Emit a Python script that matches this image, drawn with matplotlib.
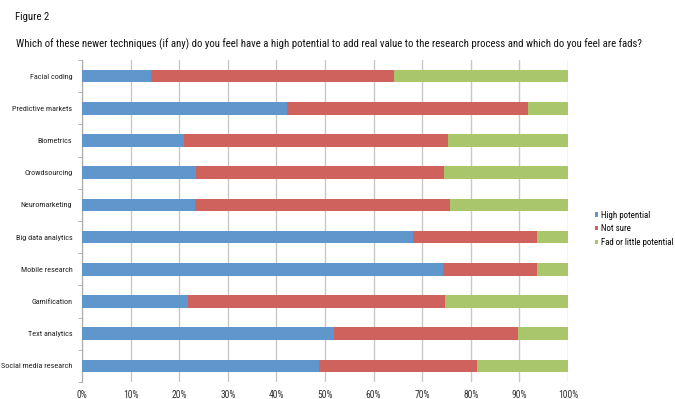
import numpy as np
import matplotlib
matplotlib.use('Agg')
import matplotlib.pyplot as plt
from matplotlib import font_manager

available = set(f.name for f in font_manager.fontManager.ttflist)
family = 'DejaVu Sans'
for cand in ['Liberation Sans Narrow', 'Roboto Condensed', 'Open Sans Condensed', 'Liberation Sans']:
    if cand in available:
        family = cand
        break
plt.rcParams['font.family'] = [family, 'DejaVu Sans']

categories = ['Facial coding', 'Predictive markets', 'Biometrics', 'Crowdsourcing',
              'Neuromarketing', 'Big data analytics', 'Mobile research', 'Gamification',
              'Text analytics', 'Social media research']
high_potential = [14.3, 42.1, 20.9, 23.5, 23.3, 68.2, 74.3, 21.8, 51.9, 48.7]
not_sure = [49.8, 49.7, 54.5, 51.0, 52.4, 25.5, 19.3, 52.9, 37.9, 32.6]
fad = [35.9, 8.2, 24.6, 25.5, 24.3, 6.3, 6.4, 25.3, 10.2, 18.7]
series_names = ['High potential', 'Not sure', 'Fad or little potential']
colors = ['#5f96cb', '#d0625e', '#a9c66b']
title = 'Which of these newer techniques (if any) do you feel have a high potential to add real value to the research process and which do you feel are fads?'

fig = plt.figure(figsize=(6.75, 3.99), dpi=100)
renderer = fig.canvas.get_renderer()


def fit_size(text, width_px):
    # measure at 10pt and scale to the wanted width
    t = fig.text(0, 0, text, fontsize=10)
    w = t.get_window_extent(renderer).width
    t.remove()
    return 10 * width_px / w


title_size = min(fit_size(title, 623), 11)
label_size = min(fit_size('Social media research', 71), 8)
legend_size = min(fit_size('Fad or little potential', 72), 8)
tick_size = min(fit_size('100%', 20), 8)

ax = fig.add_axes([82/675, 1 - 382/399, (568-82)/675, (382-60)/399])

y = np.arange(len(categories))
left = np.zeros(len(categories))
handles = []
for vals, name, c in zip([high_potential, not_sure, fad], series_names, colors):
    b = ax.barh(y, vals, left=left, height=0.39, color=c, label=name, zorder=3)
    handles.append(b)
    left += np.array(vals)

ax.set_ylim(len(categories) - 0.5, -0.5)
ax.set_xlim(0, 100)
ax.set_xticks(np.arange(0, 101, 10))
ax.set_xticklabels(['%d%%' % v for v in range(0, 101, 10)], fontsize=tick_size, color='#333333')
ax.set_yticks(y)
ax.set_yticklabels(categories, fontsize=label_size, color='#222222')
ax.set_yticks(np.arange(-0.5, len(categories), 1), minor=True)
ax.tick_params(axis='y', which='major', length=0, pad=7)
ax.tick_params(axis='y', which='minor', length=3, color='#aaaaaa', direction='out')
ax.tick_params(axis='x', length=0, pad=6)
ax.grid(axis='x', color='#c8c8c8', linewidth=1, zorder=0)
for s in ['top', 'right', 'bottom']:
    ax.spines[s].set_visible(False)
ax.spines['left'].set_color('#aaaaaa')

fig.legend(handles=handles, labels=series_names, loc='upper left',
           bbox_to_anchor=(591/675, 1 - 207/399), frameon=False, fontsize=legend_size,
           handlelength=0.4, handleheight=0.4, handletextpad=0.3, labelspacing=0.55,
           borderaxespad=0)

fig.text(15/675, 1 - 17/399, 'Figure 2', fontsize=title_size, va='center', ha='left', color='#111111')
fig.text(16/675, 1 - 44/399, title, fontsize=title_size, va='center', ha='left', color='#111111')

fig.savefig('out.png', dpi=100)
